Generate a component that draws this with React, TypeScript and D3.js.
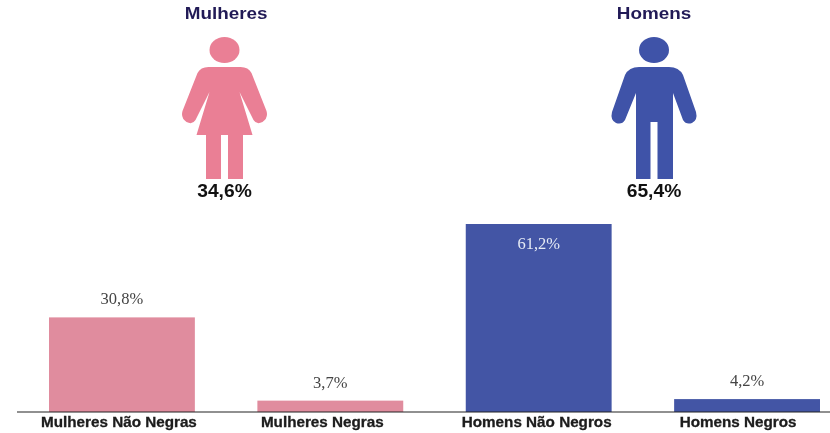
import React, { useEffect, useRef } from "react";
import * as d3 from "d3";

const categories = ["Mulheres Não Negras", "Mulheres Negras", "Homens Não Negros", "Homens Negros"];
const values = [30.8, 3.7, 61.2, 4.2];
const valueLabels = ["30,8%", "3,7%", "61,2%", "4,2%"];
const barColors = ["#e08c9e", "#e08c9e", "#4355a5", "#4355a5"];
// the tick labels sit a little left of the bar centres
const labelShifts = [-3, -8, -2, -9];

const groupNames = ["Mulheres", "Homens"];
const groupShares = ["34,6%", "65,4%"];
const groupCenters = [224.5, 654];
const iconColors = ["#ea7f95", "#3f53a8"];

// icons are drawn around x = 0 with the head on top, y in page pixels
const womanBody =
  "M-16,67 L16,67 Q24,67 27,73 L42,111 Q44,118 38,122 Q32,125 29,120 L15,92 L28,135 L18.5,135 L18.5,179 L3.5,179 L3.5,135 L-3.5,135 L-3.5,179 L-18.5,179 L-18.5,135 L-28,135 L-15,92 L-29,120 Q-32,125 -38,122 Q-44,118 -42,111 L-27,73 Q-24,67 -16,67 Z";
const manBody =
  "M-15,67 L15,67 Q25,67 29,75 L42,112 Q44,120 38,123 Q32,125 29,120 L19,93 L19,179 L3.5,179 L3.5,122 L-3.5,122 L-3.5,179 L-18,179 L-18,93 L-29,120 Q-32,125 -38,123 Q-44,120 -42,112 L-29,75 Q-25,67 -15,67 Z";
const iconPaths = [womanBody, manBody];

const width = 830;
const height = 433;
const baseline = 412;
const sans = "'Liberation Sans', Arial, sans-serif";

export default function App() {
  const axisRef = useRef<SVGGElement>(null);

  const x = d3.scaleBand<string>().domain(categories).range([49, 820]).paddingInner(0.3).paddingOuter(0);
  const y = d3.scaleLinear().domain([0, 61.2]).range([baseline, 224]);

  useEffect(() => {
    const axis = d3.select(axisRef.current);
    axis.call(d3.axisBottom(x).tickSize(0).tickPadding(5) as any);
    axis.select(".domain").remove();
    axis
      .selectAll("text")
      .attr("font-family", sans)
      .attr("font-size", 14)
      .attr("font-weight", "bold")
      .attr("fill", "#1c1c1c")
      .attr("stroke", "#1c1c1c")
      .attr("stroke-width", 0.3)
      .attr("transform", (_d, i) => `translate(${labelShifts[i]},0) scale(1.09,1)`);
  }, []);

  return (
    <svg
      width={width}
      height={height}
      style={{ position: "absolute", left: 0, top: 0, display: "block", background: "#fff", filter: "blur(0.6px)" }}
    >
      {groupNames.map((name, i) => (
        <g key={name} transform={`translate(${groupCenters[i]},0)`}>
          <text
            y={19}
            x={i === 0 ? 1.5 : 0}
            textAnchor="middle"
            fontFamily={sans}
            fontSize={17}
            fontWeight="bold"
            fill="#211a56"
            transform="scale(1.11,1)"
          >
            {name}
          </text>
          <ellipse cy={50} rx={15} ry={13} fill={iconColors[i]} />
          <path d={iconPaths[i]} fill={iconColors[i]} />
          <text
            y={197}
            textAnchor="middle"
            fontFamily={sans}
            fontSize={18}
            fontWeight="bold"
            fill="#111"
            transform="scale(1.07,1)"
          >
            {groupShares[i]}
          </text>
        </g>
      ))}

      {categories.map((c, i) => (
        <rect
          key={c}
          x={x(c)}
          y={y(values[i])}
          width={x.bandwidth()}
          height={baseline - y(values[i])}
          fill={barColors[i]}
        />
      ))}

      {categories.map((c, i) => {
        // the tallest bar carries its label inside
        const inside = values[i] === d3.max(values);
        return (
          <text
            key={c}
            x={x(c)! + x.bandwidth() / 2}
            y={inside ? y(values[i]) + 25 : y(values[i]) - 13}
            textAnchor="middle"
            fontFamily="'Liberation Serif', 'Times New Roman', serif"
            fontSize={16.5}
            fill={inside ? "#e6ebf5" : "#444"}
          >
            {valueLabels[i]}
          </text>
        );
      })}

      <line x1={17} x2={830} y1={baseline} y2={baseline} stroke="#222" strokeWidth={1.2} />
      <g ref={axisRef} transform={`translate(0,${baseline})`} />
    </svg>
  );
}
